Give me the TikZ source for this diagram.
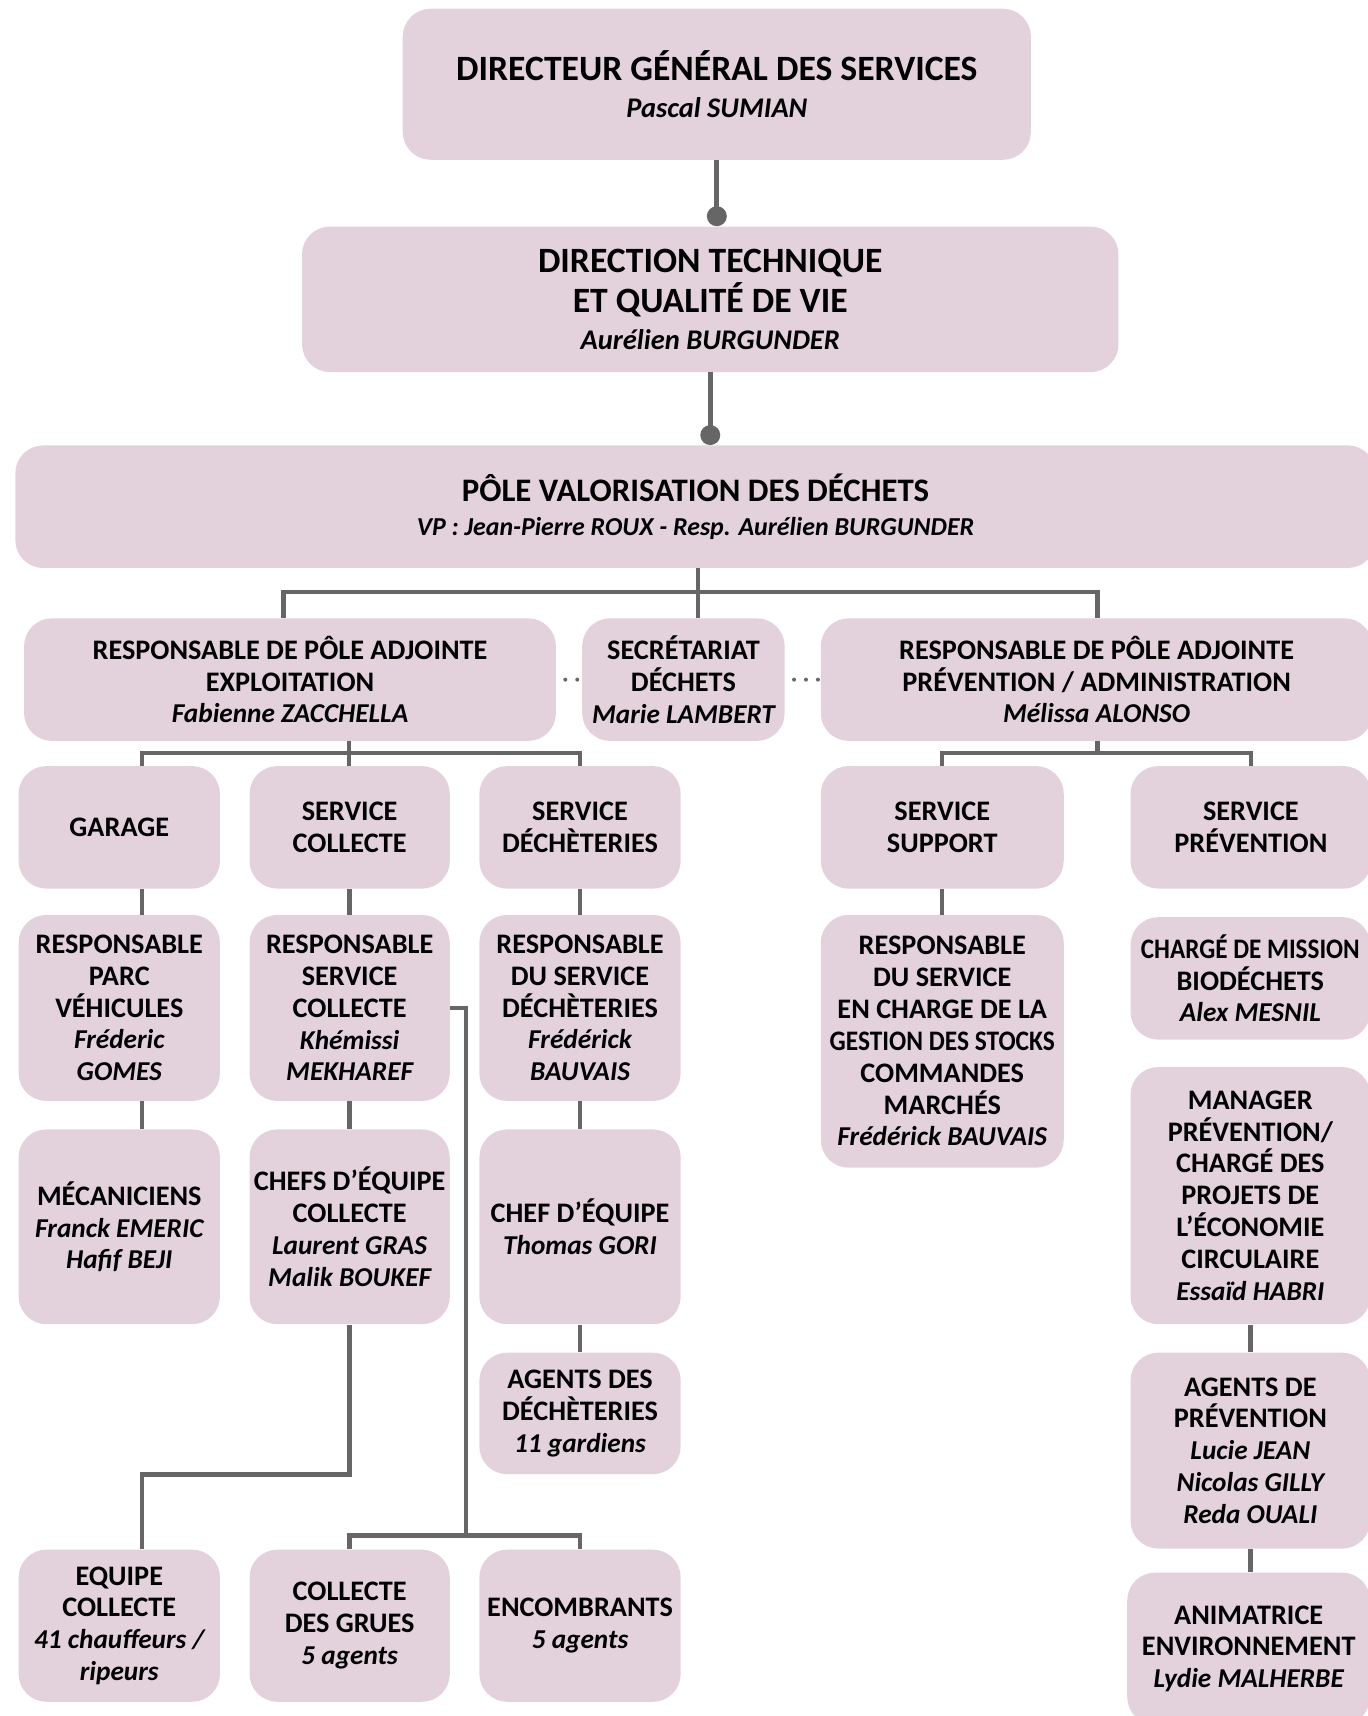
\documentclass[tikz,border=0pt]{standalone}
\usepackage{fontspec}
\setmainfont{Carlito}
\usepackage{graphicx}
\usepackage{tikz}
\usetikzlibrary{arrows.meta}
\usetikzlibrary{calc}
\definecolor{boxpink}{RGB}{227,210,220}
\definecolor{linegray}{RGB}{102,102,102}
\tikzset{
	orgbox/.style={fill=boxpink, rounded corners=14pt, inner sep=0pt, align=center,
		font=\bfseries\fontsize{14.2}{16}\selectfont},
	bigbox/.style={orgbox, font=\bfseries\fontsize{17.9}{20.3}\selectfont},
	polebox/.style={orgbox, font=\bfseries\fontsize{16.5}{20.3}\selectfont},
	link/.style={draw=linegray, line width=2.2pt},
	dotlink/.style={draw=linegray, line width=2.5pt, -{Circle[length=10pt]}},
	dotline/.style={draw=linegray, line width=2pt, line cap=round,
		dash pattern=on 0pt off 6pt, shorten <=4.5pt, shorten >=1pt},
}
% box from its corners (x1,y1) (x2,y2), in pixels of the page
\newcommand{\orgnode}[7][orgbox]{%
	\node[#1, minimum width={(#5-#3)*0.55pt}, minimum height={(#6-#4)*0.55pt}]
		(#2) at ({(#3+#5)/2},{(#4+#6)/2}) {#7};}
\newcommand{\who}[1]{{\fontsize{13.7}{16}\selectfont\itshape #1}}
\newcommand{\whobig}[1]{{\fontsize{14.3}{16}\selectfont\itshape #1}}

\begin{document}
\begin{tikzpicture}[x=0.55pt, y=-0.55pt]
		\useasboundingbox (0,0) rectangle (1250,1568);
		% Direction
		\orgnode[bigbox]{dgs}{368}{8}{942}{146}{DIRECTEUR GÉNÉRAL DES SERVICES\\[-1.6pt]\whobig{Pascal SUMIAN}}
		\orgnode[bigbox]{dir}{276}{207}{1022}{340}{DIRECTION TECHNIQUE\\ET QUALITÉ DE VIE\\[-1.6pt]\whobig{Aurélien BURGUNDER}}
		\orgnode[polebox]{pole}{14}{407}{1257}{519}{PÔLE VALORISATION DES DÉCHETS\\[-3.3pt]{\fontsize{13}{16}\selectfont\itshape VP : Jean-Pierre ROUX - Resp. Aurélien BURGUNDER}}
		\draw [dotlink] (dgs.south) -- (dgs.south |- dir.north);
		\draw [dotlink] (dir.south) -- (dir.south |- pole.north);
		% Adjoints
		\orgnode{expl}{22}{565}{508}{677}{RESPONSABLE DE PÔLE ADJOINTE\\EXPLOITATION\\\who{Fabienne ZACCHELLA}}
		\orgnode{secr}{532}{565}{717}{677}{SECRÉTARIAT\\DÉCHETS\\\who{Marie LAMBERT}}
		\orgnode{adm}{750}{565}{1254}{677}{RESPONSABLE DE PÔLE ADJOINTE\\PRÉVENTION / ADMINISTRATION\\\who{Mélissa ALONSO}}
		\coordinate (bus1) at (638,541);
		\draw [link] (pole.south -| bus1) -- (bus1) -- (secr.north -| bus1);
		\draw [link] (expl.north -| 259,0) |- (bus1) -| (adm.north -| 1003,0);
		\draw [dotline] (expl.east) -- (secr.west);
		\draw [dotline] (secr.east) -- (adm.west);
		% Exploitation
		\orgnode{garage}{17}{700}{201}{812}{GARAGE}
		\orgnode{scoll}{228}{700}{411}{812}{SERVICE\\COLLECTE}
		\orgnode{sdech}{438}{700}{622}{812}{SERVICE\\DÉCHÈTERIES}
		\coordinate (bus2) at (319,688);
		\draw [link] (expl.south -| bus2) -- (scoll.north -| bus2);
		\draw [link] (garage.north -| 130,0) |- (bus2) -| (sdech.north);
		\orgnode{rparc}{17}{836}{201}{1006}{RESPONSABLE\\PARC\\VÉHICULES\\\who{Fréderic}\\\who{GOMES}}
		\orgnode{rcoll}{228}{836}{411}{1006}{RESPONSABLE\\SERVICE\\COLLECTE\\\who{Khémissi}\\\who{MEKHAREF}}
		\orgnode{rdech}{438}{836}{622}{1006}{RESPONSABLE\\DU SERVICE\\DÉCHÈTERIES\\\who{Frédérick}\\\who{BAUVAIS}}
		\orgnode{meca}{17}{1032}{201}{1210}{MÉCANICIENS\\\who{Franck EMERIC}\\\who{Hafif BEJI}}
		\orgnode{chefs}{228}{1032}{411}{1210}{CHEFS D’ÉQUIPE\\COLLECTE\\\who{Laurent GRAS}\\\who{Malik BOUKEF}}
		\orgnode{chefeq}{438}{1032}{622}{1210}{CHEF D’ÉQUIPE\\\who{Thomas GORI}}
		\orgnode{agdech}{438}{1236}{622}{1347}{AGENTS DES\\DÉCHÈTERIES\\\who{11 gardiens}}
		\orgnode{equipe}{17}{1416}{201}{1555}{EQUIPE\\COLLECTE\\\who{41 chauffeurs /}\\\who{ripeurs}}
		\orgnode{grues}{228}{1416}{411}{1555}{COLLECTE\\DES GRUES\\\who{5 agents}}
		\orgnode{encomb}{438}{1416}{622}{1555}{ENCOMBRANTS\\\who{5 agents}}
		\draw [link] (garage.south -| 130,0) -- (rparc.north -| 130,0);
		\draw [link] (rparc.south -| 130,0) -- (meca.north -| 130,0);
		\draw [link] (scoll.south) -- (rcoll.north);
		\draw [link] (rcoll.south) -- (chefs.north);
		\draw [link] (chefs.south) -- ++(0,137) -| (equipe.north -| 130,0);
		\coordinate (bus4) at (426,1403);
		\draw [link] (rcoll.east) -| (bus4);
		\draw [link] (grues.north) |- (bus4) -| (encomb.north);
		\draw [link] (sdech.south) -- (rdech.north);
		\draw [link] (rdech.south) -- (chefeq.north);
		\draw [link] (chefeq.south) -- (agdech.north);
		% Prevention / administration
		\orgnode{supp}{750}{700}{972}{812}{SERVICE\\SUPPORT}
		\orgnode{sprev}{1033}{700}{1253}{812}{SERVICE\\PRÉVENTION}
		\coordinate (bus3) at (1003,688);
		\draw [link] (adm.south -| bus3) -- (bus3);
		\draw [link] (supp.north) |- (bus3) -| (sprev.north);
		\orgnode{rsupp}{750}{836}{972}{1067}{RESPONSABLE\\DU SERVICE\\EN CHARGE DE LA\\\scalebox{0.9}[1]{GESTION DES STOCKS}\\COMMANDES\\MARCHÉS\\\who{Frédérick BAUVAIS}}
		\draw [link] (supp.south) -- (rsupp.north);
		\orgnode{mission}{1033}{838}{1252}{950}{\scalebox{0.89}[1]{CHARGÉ DE MISSION}\\BIODÉCHETS\\\who{Alex MESNIL}}
		\orgnode{manag}{1033}{975}{1252}{1210}{MANAGER\\PRÉVENTION/\\CHARGÉ DES\\PROJETS DE\\L’ÉCONOMIE\\CIRCULAIRE\\\who{Essaïd HABRI}}
		\orgnode{agprev}{1033}{1236}{1252}{1415}{AGENTS DE\\PRÉVENTION\\\who{Lucie JEAN}\\\who{Nicolas GILLY}\\\who{Reda OUALI}}
		\orgnode{anim}{1030}{1437}{1252}{1576}{ANIMATRICE\\ENVIRONNEMENT\\\who{Lydie MALHERBE}}
		\draw [link] (manag.south) -- (agprev.north);
		\draw [link] (agprev.south) -- (agprev.south |- anim.north);
\end{tikzpicture}
\end{document}
